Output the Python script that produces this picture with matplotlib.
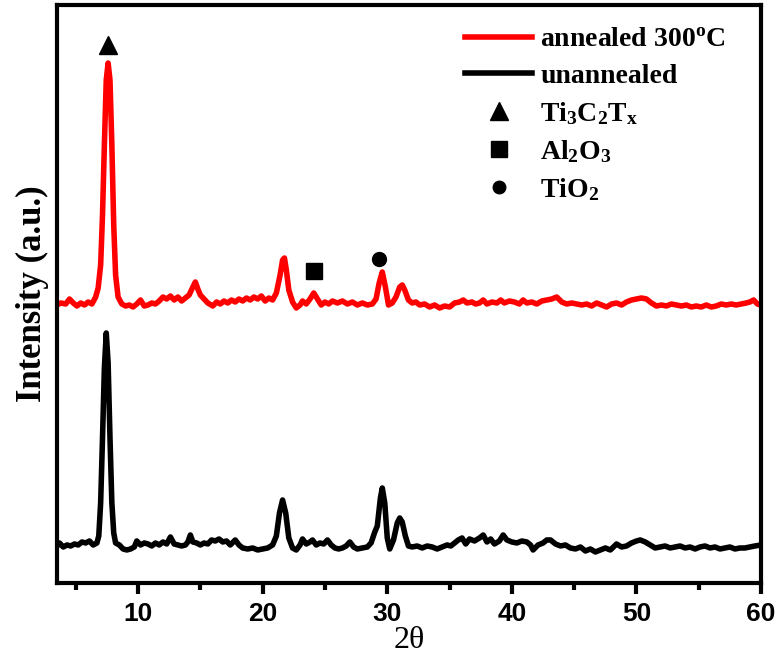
import matplotlib
matplotlib.use('Agg')
import matplotlib.pyplot as plt
from matplotlib.lines import Line2D
import numpy as np

plt.rcParams['font.family'] = ['Liberation Serif', 'DejaVu Serif']
plt.rcParams['font.weight'] = 'bold'
plt.rcParams['mathtext.fontset'] = 'custom'
plt.rcParams['mathtext.rm'] = 'Liberation Serif:bold'
plt.rcParams['mathtext.bf'] = 'Liberation Serif:bold'
plt.rcParams['mathtext.it'] = 'Liberation Serif:bold'

# 2theta / intensity (arb. units, baseline = 0)
tt_annealed = [3.5, 3.8, 4.2, 4.5, 4.8, 5.1, 5.4, 5.7, 6.0, 6.3, 6.6, 6.8, 7.0, 7.15, 7.3, 7.45, 7.6, 7.75, 7.9,
               8.05, 8.2, 8.4, 8.7, 9.0, 9.3, 9.6, 9.9, 10.2, 10.5, 10.8, 11.1, 11.4, 11.7, 12.0, 12.3, 12.6,
               12.9, 13.2, 13.5, 13.8, 14.1, 14.4, 14.6, 14.8, 15.0, 15.3, 15.6, 16.0, 16.3, 16.6, 16.9, 17.2,
               17.5, 17.8, 18.1, 18.4, 18.7, 19.0, 19.3, 19.6, 19.9, 20.2, 20.5, 20.8, 21.1, 21.4, 21.6, 21.75,
               21.9, 22.1, 22.4, 22.7, 23.0, 23.2, 23.5, 23.8, 24.1, 24.4, 24.7, 25.0, 25.3, 25.6, 26.0, 26.4,
               26.8, 27.2, 27.6, 28.0, 28.4, 28.8, 29.1, 29.35, 29.6, 29.85, 30.1, 30.4, 30.7, 31.0, 31.2, 31.4,
               31.7, 32.0, 32.3, 32.6, 33.0, 33.4, 33.8, 34.2, 34.6, 35.0, 35.4, 35.8, 36.1, 36.4, 36.8, 37.1,
               37.4, 37.7, 38.0, 38.4, 38.8, 39.1, 39.4, 39.8, 40.2, 40.6, 40.9, 41.2, 41.6, 42.0, 42.4, 42.8,
               43.2, 43.6, 44.0, 44.4, 44.8, 45.2, 45.6, 46.0, 46.4, 46.8, 47.2, 47.6, 48.0, 48.4, 48.8, 49.2,
               49.6, 50.0, 50.4, 50.8, 51.2, 51.6, 52.0, 52.4, 52.8, 53.2, 53.6, 54.0, 54.4, 54.8, 55.2, 55.6,
               56.0, 56.4, 56.8, 57.2, 57.6, 58.0, 58.4, 58.8, 59.1, 59.4, 59.7, 60.0]
int_annealed = [0, 2, 1, 6, 2, -1, 2, 0, 3, 1, 8, 17, 40, 90, 160, 225, 242, 225, 160,
                80, 30, 8, 1, -1, 0, -2, 1, 5, -1, 0, 2, 1, 4, 8, 6, 9,
                5, 8, 4, 7, 10, 18, 23, 16, 10, 6, 2, -1, 3, 1, 4, 2,
                5, 3, 6, 4, 7, 5, 8, 6, 9, 4, 7, 5, 12, 30, 45, 47,
                35, 15, 3, -3, 0, 4, 1, 6, 12, 6, 0, 3, 1, 4, 2, 4,
                1, 3, 0, 2, 0, 1, 6, 22, 33, 18, 0, 2, 8, 18, 20, 15,
                5, 2, 3, 0, 1, -2, 0, -3, -1, -2, 2, 3, 5, 2, 3, 1,
                2, 5, 1, 3, 2, 5, 2, 4, 3, 1, 5, 2, 3, 1, 4, 5,
                6, 8, 3, 1, 2, 1, 0, 1, -1, 2, 0, -2, 1, 2, 0, 3,
                5, 6, 7, 6, 2, -1, 0, -1, 1, 0, -1, 0, -2, -1, -2, 0,
                -2, -1, 1, 0, 1, 0, 1, 2, 3, 5, 1, 0]

tt_unannealed = [3.5, 3.7, 4.0, 4.3, 4.6, 4.9, 5.2, 5.5, 5.8, 6.1, 6.4, 6.7, 6.85, 7.0, 7.15, 7.3, 7.45, 7.6,
                 7.75, 7.9, 8.05, 8.2, 8.5, 8.8, 9.1, 9.4, 9.7, 9.9, 10.2, 10.5, 10.8, 11.1, 11.4, 11.7, 12.0,
                 12.3, 12.6, 12.9, 13.2, 13.5, 13.8, 14.0, 14.2, 14.4, 14.7, 15.0, 15.3, 15.6, 15.9, 16.2, 16.5,
                 16.8, 17.1, 17.4, 17.8, 18.1, 18.4, 18.8, 19.2, 19.6, 20.0, 20.4, 20.8, 21.1, 21.35, 21.6,
                 21.85, 22.1, 22.4, 22.7, 23.0, 23.2, 23.5, 23.8, 24.0, 24.3, 24.6, 24.9, 25.2, 25.5, 25.8,
                 26.1, 26.4, 26.7, 27.0, 27.3, 27.6, 28.0, 28.4, 28.7, 29.0, 29.2, 29.45, 29.6, 29.8, 30.0,
                 30.2, 30.5, 30.8, 31.0, 31.2, 31.45, 31.7, 32.0, 32.4, 32.8, 33.2, 33.6, 34.0, 34.4, 34.8,
                 35.1, 35.4, 35.7, 36.0, 36.3, 36.6, 37.0, 37.4, 37.7, 38.0, 38.3, 38.6, 39.0, 39.3, 39.6,
                 40.0, 40.4, 40.8, 41.2, 41.5, 41.7, 42.1, 42.5, 42.8, 43.1, 43.5, 43.9, 44.3, 44.7, 45.1,
                 45.5, 45.9, 46.3, 46.7, 47.1, 47.5, 47.9, 48.4, 48.8, 49.2, 49.6, 50.0, 50.3, 50.7, 51.1,
                 51.5, 51.9, 52.3, 52.7, 53.1, 53.5, 53.9, 54.3, 54.7, 55.1, 55.5, 55.9, 56.3, 56.7, 57.1,
                 57.5, 57.9, 58.3, 58.7, 59.1, 59.5, 60.0]
int_unannealed = [2, 5, 1, 3, 2, 4, 3, 6, 5, 7, 3, 5, 12, 45, 110, 180, 215, 185,
                  110, 45, 15, 5, 3, -1, -2, -1, 1, 7, 3, 5, 4, 2, 5, 3, 6,
                  4, 11, 4, 3, 2, 3, 6, 13, 6, 5, 3, 5, 4, 8, 7, 9,
                  6, 7, 3, 8, 3, 0, -1, 0, -2, -1, 0, 3, 12, 35, 48,
                  35, 10, 0, -2, 3, 9, 4, 6, 8, 3, 5, 4, 8, 3, 0,
                  -1, 0, 2, 6, 1, -1, 0, 1, 5, 16, 22, 50, 60, 45, 10,
                  -1, 8, 25, 30, 26, 12, 2, 1, 2, 0, 2, 1, -1, 1, 3,
                  2, 5, 8, 10, 4, 9, 7, 10, 13, 6, 9, 4, 7, 13, 8,
                  6, 5, 7, 6, 3, -2, 3, 5, 8, 8, 4, 2, 3, 0, -1,
                  1, -3, -1, -4, -2, 0, -2, 4, 1, 2, 5, 7, 8, 6, 3,
                  0, 1, 2, 0, 1, 2, 0, 1, -1, 1, 2, 0, 1, -1, 0,
                  1, -1, 0, 0, 1, 2, 3]

offset_annealed = 243

# phase markers: position on the annealed curve
mark_tt = [7.6, 24.1, 29.3]
mark_int = [260, 34, 46]
mark_sym = ['^', 's', 'o']
mark_size = [13, 11, 10]

fig = plt.figure(figsize=(7.78, 6.6), dpi=100)
ax = fig.add_axes([0.0733, 0.1167, 0.905, 0.8757])

ax.plot(tt_unannealed, int_unannealed, color='black', linewidth=4, solid_joinstyle='round')
ax.plot(tt_annealed, np.array(int_annealed) + offset_annealed, color='#ff0000', linewidth=4,
        solid_joinstyle='round')

for x, y, m, s in zip(mark_tt, mark_int, mark_sym, mark_size):
    ax.plot(x, y + offset_annealed, marker=m, color='black', markersize=s, linestyle='none')

ax.set_xlim(3.5, 60)
ax.set_ylim(-35, 543)
ax.set_xticks(range(10, 61, 10))
ax.set_xticks(range(5, 60, 10), minor=True)
ax.set_yticks([])
ax.tick_params(axis='x', which='major', direction='out', length=8, width=3, labelsize=19, pad=6)
ax.tick_params(axis='x', which='minor', direction='out', length=5, width=3)
for lbl in ax.get_xticklabels():
    lbl.set_family(['Liberation Sans Narrow', 'Liberation Sans'])
    lbl.set_fontweight('bold')
for sp in ax.spines.values():
    sp.set_linewidth(3)

ax.set_xlabel('2θ', fontsize=23, fontweight='normal', labelpad=0)
ax.set_ylabel('Intensity (a.u.)', fontsize=25, fontweight='bold', labelpad=6)

handles = [
    Line2D([], [], color='#ff0000', linewidth=4),
    Line2D([], [], color='black', linewidth=4),
    Line2D([], [], color='black', marker='^', markersize=13, linestyle='none'),
    Line2D([], [], color='black', marker='s', markersize=11, linestyle='none'),
    Line2D([], [], color='black', marker='o', markersize=9, linestyle='none'),
]
labels = [r'annealed 300$^{\mathrm{o}}$C', 'unannealed', r'$\mathrm{Ti_3C_2T_x}$',
          r'$\mathrm{Al_2O_3}$', r'$\mathrm{TiO_2}$']
ax.legend(handles, labels, loc='upper left', bbox_to_anchor=(0.58, 0.962), frameon=False,
          fontsize=20, handlelength=2.4, handletextpad=0.3, labelspacing=0.4,
          borderpad=0, borderaxespad=0)

fig.savefig('out.png', dpi=100)
